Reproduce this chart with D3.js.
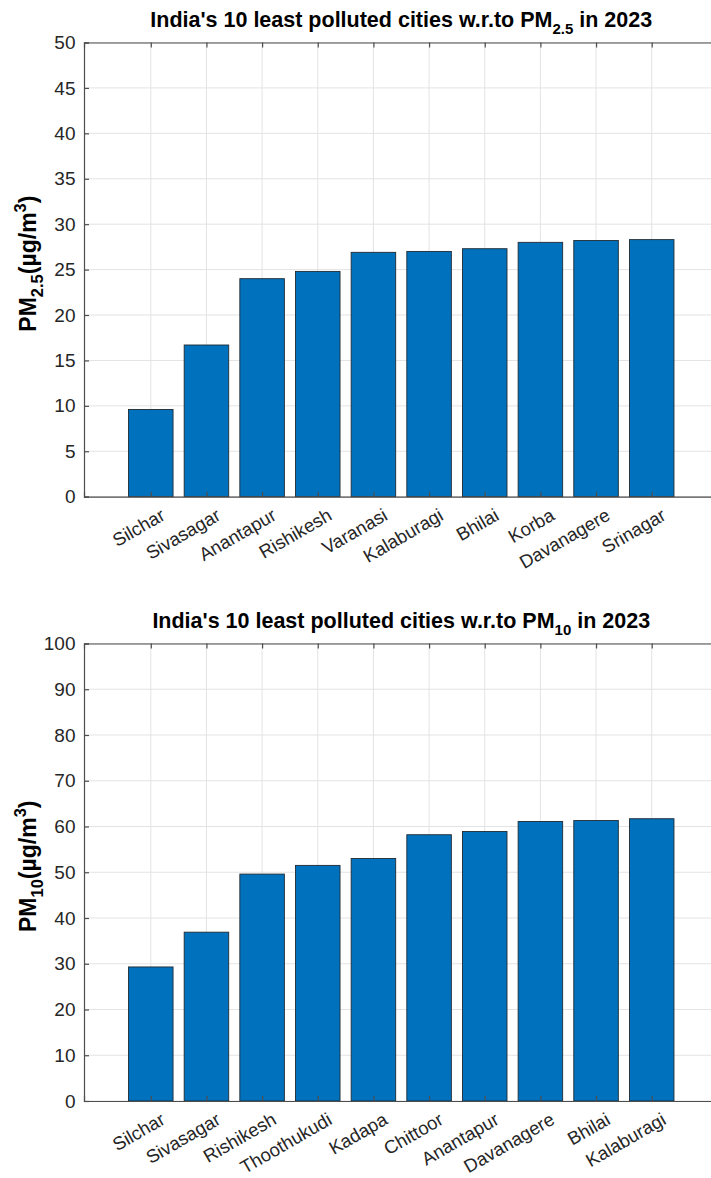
<!DOCTYPE html>
<html>
<head>
<meta charset="utf-8">
<script src="https://cdn.jsdelivr.net/npm/d3@7"></script>
<style>
  html, body { margin: 0; padding: 0; background: #fff; }
  svg { display: block; font-family: "Liberation Sans", Arial, Helvetica, sans-serif; }
</style>
</head>
<body>
<svg id="fig" width="711" height="1178"></svg>
<script>
// PM2.5 annual averages (µg/m³), 2023
const pm25Cities = ["Silchar", "Sivasagar", "Anantapur", "Rishikesh", "Varanasi",
                    "Kalaburagi", "Bhilai", "Korba", "Davanagere", "Srinagar"];
const pm25Values = [9.6, 16.7, 24.0, 24.8, 26.9, 27.0, 27.3, 28.0, 28.2, 28.3];
const pm25Ticks = [0, 5, 10, 15, 20, 25, 30, 35, 40, 45, 50];

// PM10 annual averages (µg/m³), 2023
const pm10Cities = ["Silchar", "Sivasagar", "Rishikesh", "Thoothukudi", "Kadapa",
                    "Chittoor", "Anantapur", "Davanagere", "Bhilai", "Kalaburagi"];
const pm10Values = [29.3, 36.9, 49.6, 51.5, 53.0, 58.2, 58.9, 61.1, 61.3, 61.7];
const pm10Ticks = [0, 10, 20, 30, 40, 50, 60, 70, 80, 90, 100];

const svg = d3.select("#fig");
const BAR = "#0072BD", AXIS = "#4d4d4d", GRID = "#e3e3e3", TXT = "#262626";

function drawPanel(cfg) {
  const { cities, values, ticks, top, bottom, titleY, sub } = cfg;
  const left = 84, right = 718.5;
  const g = svg.append("g");

  const x = d3.scaleLinear().domain([-0.2, 11.2]).range([left, right]);
  const y = d3.scaleLinear().domain([ticks[0], ticks[ticks.length - 1]]).range([bottom, top]);
  const pos = cities.map((_, i) => i + 1);

  // grid
  g.append("g").selectAll("line").data(ticks).join("line")
    .attr("x1", left).attr("x2", right)
    .attr("y1", d => y(d)).attr("y2", d => y(d))
    .attr("stroke", GRID).attr("stroke-width", 1);
  g.append("g").selectAll("line").data(pos).join("line")
    .attr("x1", d => x(d)).attr("x2", d => x(d))
    .attr("y1", top).attr("y2", bottom)
    .attr("stroke", GRID).attr("stroke-width", 1);

  // bars
  const bw = x(0.8) - x(0);
  g.append("g").selectAll("rect").data(values).join("rect")
    .attr("x", (d, i) => x(pos[i]) - bw / 2)
    .attr("width", bw)
    .attr("y", d => y(d))
    .attr("height", d => y(0) - y(d))
    .attr("fill", BAR)
    .attr("stroke", "#1f2a33").attr("stroke-width", 0.9);

  // left axis
  const ya = g.append("g").attr("transform", `translate(${left},0)`)
    .call(d3.axisLeft(y).tickValues(ticks).tickSize(-5).tickPadding(8.5).tickFormat(d3.format("d")));
  // bottom axis (labels added separately)
  const xa = g.append("g").attr("transform", `translate(0,${bottom})`)
    .call(d3.axisBottom(x).tickValues(pos).tickSize(-5).tickFormat(""));
  // top border with ticks
  const xt = g.append("g").attr("transform", `translate(0,${top})`)
    .call(d3.axisTop(x).tickValues(pos).tickSize(-5).tickFormat(""));
  [ya, xa, xt].forEach(a => {
    a.select(".domain").attr("stroke", AXIS).attr("stroke-width", 1.2);
    a.selectAll(".tick line").attr("stroke", AXIS).attr("stroke-width", 1.2);
  });
  ya.selectAll(".tick text").attr("fill", TXT).style("font-size", "19px")
    .style("font-family", "Liberation Sans, Arial, sans-serif");

  // rotated category labels
  g.append("g").selectAll("text").data(cities).join("text")
    .attr("transform", (d, i) => `translate(${x(pos[i]) + 9},${bottom + 11}) rotate(-30)`)
    .attr("text-anchor", "end").attr("dy", "0.7em")
    .attr("fill", TXT).style("font-size", "18.5px")
    .text(d => d);

  // title
  const t = g.append("text").attr("x", (left + right) / 2).attr("y", titleY)
    .attr("text-anchor", "middle").attr("fill", "#000")
    .style("font-size", "21.5px").style("font-weight", "bold");
  t.append("tspan").text("India's 10 least polluted cities w.r.to PM");
  t.append("tspan").attr("dy", 7).style("font-size", "15px").text(sub);
  t.append("tspan").attr("dy", -7).text(" in 2023");

  // y label
  const yl = g.append("text")
    .attr("transform", `translate(36,${(top + bottom) / 2 - 6}) rotate(-90)`)
    .attr("text-anchor", "middle").attr("fill", "#000")
    .style("font-size", "23px").style("font-weight", "bold");
  yl.append("tspan").text("PM");
  yl.append("tspan").attr("dy", 7).style("font-size", "16.5px").text(sub);
  yl.append("tspan").attr("dy", -7).text("(µg/m");
  yl.append("tspan").attr("dy", -10).style("font-size", "16.5px").text("3");
  yl.append("tspan").attr("dy", 10).text(")");
}

drawPanel({ cities: pm25Cities, values: pm25Values, ticks: pm25Ticks,
            top: 42.5, bottom: 496.7, titleY: 27, sub: "2.5" });
drawPanel({ cities: pm10Cities, values: pm10Values, ticks: pm10Ticks,
            top: 643.5, bottom: 1101, titleY: 628, sub: "10" });
</script>
</body>
</html>
